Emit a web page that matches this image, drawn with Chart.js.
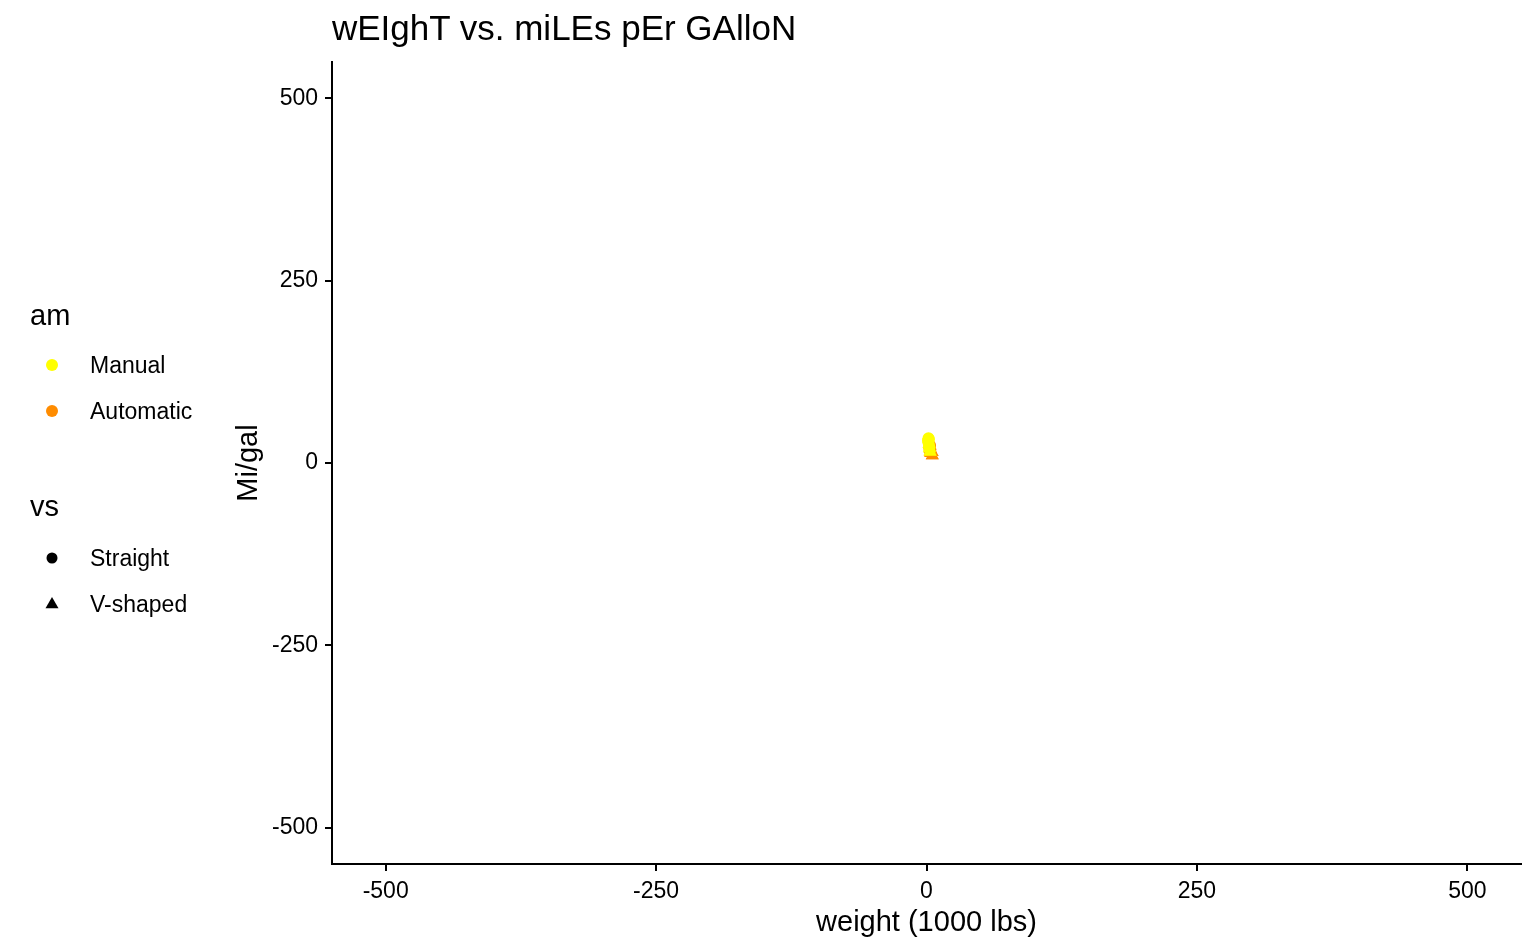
<!DOCTYPE html>
<html>
<head>
<meta charset="utf-8">
<script src="https://cdn.jsdelivr.net/npm/chart.js@4/dist/chart.umd.min.js"></script>
<style>
  body { margin: 0; background: #fff; }
  #wrap { position: relative; width: 1536px; height: 949px; font-family: "Liberation Sans", Arial, sans-serif; color: #000; }
  #grafico { position: absolute; left: 0; top: 0; }
  .txt { position: absolute; white-space: nowrap; }
  .key { position: absolute; }
</style>
</head>
<body>
<div id="wrap">
  <canvas id="grafico" width="1536" height="949"></canvas>
  <div class="txt" style="left:332px; top:10px; font-size:35px; line-height:35px;">wEIghT vs. miLEs pEr GAlloN</div>

  <div class="txt" style="left:30px; top:301px; font-size:29px; line-height:29px;">am</div>
  <svg class="key" style="left:44px; top:357px;" width="16" height="16"><circle cx="8" cy="8" r="6" fill="#FFFF00"/></svg>
  <div class="txt" style="left:90px; top:354px; font-size:23px; line-height:23px;">Manual</div>
  <svg class="key" style="left:44px; top:403px;" width="16" height="16"><circle cx="8" cy="8" r="6" fill="#FF8C00"/></svg>
  <div class="txt" style="left:90px; top:400px; font-size:23px; line-height:23px;">Automatic</div>

  <div class="txt" style="left:30px; top:492px; font-size:29px; line-height:29px;">vs</div>
  <svg class="key" style="left:44px; top:550px;" width="16" height="16"><circle cx="8" cy="8" r="5.5" fill="#000"/></svg>
  <div class="txt" style="left:90px; top:547px; font-size:23px; line-height:23px;">Straight</div>
  <svg class="key" style="left:44px; top:595px;" width="16" height="16"><polygon points="8,2 14.5,13.3 1.5,13.3" fill="#000"/></svg>
  <div class="txt" style="left:90px; top:593px; font-size:23px; line-height:23px;">V-shaped</div>
</div>
<script>
  // dados (mtcars)
  var peso = [2.620, 2.875, 2.320, 3.215, 3.440, 3.460, 3.570, 3.190, 3.150, 3.440, 3.440,
              4.070, 3.730, 3.780, 5.250, 5.424, 5.345, 2.200, 1.615, 1.835, 2.465, 3.520,
              3.435, 3.840, 3.845, 1.935, 2.140, 1.513, 3.170, 2.770, 3.570, 2.780];
  var mpg = [21.0, 21.0, 22.8, 21.4, 18.7, 18.1, 14.3, 24.4, 22.8, 19.2, 17.8,
             16.4, 17.3, 15.2, 10.4, 10.4, 14.7, 32.4, 30.4, 33.9, 21.5, 15.5,
             15.2, 13.3, 19.2, 27.3, 26.0, 30.4, 15.8, 19.7, 15.0, 21.4];
  var am = [1, 1, 1, 0, 0, 0, 0, 0, 0, 0, 0,
            0, 0, 0, 0, 0, 0, 1, 1, 1, 0, 0,
            0, 0, 0, 1, 1, 1, 1, 1, 1, 1];
  var vs = [0, 0, 1, 1, 0, 1, 0, 1, 1, 1, 1,
            0, 0, 0, 0, 0, 0, 1, 1, 1, 1, 0,
            0, 0, 0, 1, 0, 1, 0, 0, 0, 1];
  var xTicks = [-500, -250, 0, 250, 500];
  var yTicks = [-500, -250, 0, 250, 500];

  var cores = { 1: '#FFFF00', 0: '#FF8C00' };
  var formas = { 1: 'circle', 0: 'triangle' };
  var raios = { 1: 6, 0: 7.5 };

  function pontos(a, v) {
    var out = [];
    for (var i = 0; i < peso.length; i++) {
      if (am[i] === a && vs[i] === v) out.push({ x: peso[i], y: mpg[i] });
    }
    return out;
  }

  // manual primeiro (fica por cima)
  var datasets = [];
  [1, 0].forEach(function (a) {
    [1, 0].forEach(function (v) {
      datasets.push({
        data: pontos(a, v),
        pointStyle: formas[v],
        pointRadius: raios[v],
        pointBackgroundColor: cores[a],
        pointBorderWidth: 0,
        showLine: false
      });
    });
  });

  var fonteTick = { family: '"Liberation Sans", Arial, sans-serif', size: 23 };
  var fonteTitulo = { family: '"Liberation Sans", Arial, sans-serif', size: 29 };

  var ctx = document.getElementById('grafico').getContext('2d');
  var grafico = new Chart(ctx, {
    type: 'scatter',
    data: { datasets: datasets },
    options: {
      responsive: false,
      animation: false,
      layout: { padding: { left: 232, top: 62, right: 15, bottom: 0 } },
      plugins: { legend: { display: false }, tooltip: { enabled: false } },
      scales: {
        x: {
          min: -549.6, max: 549.6,
          afterBuildTicks: function (s) { s.ticks = xTicks.map(function (v) { return { value: v }; }); },
          afterFit: function (s) { s.height = 85; },
          ticks: { color: '#000', font: fonteTick, padding: 7, maxRotation: 0,
                   callback: function (v) { return String(v); } },
          grid: { drawOnChartArea: false, drawTicks: true, tickLength: 7, color: '#000', lineWidth: 2 },
          border: { display: true, color: '#000', width: 2 },
          title: { display: true, text: 'weight (1000 lbs)', color: '#000', font: fonteTitulo, padding: { top: 0, bottom: 9 } }
        },
        y: {
          min: -549.6, max: 549.6,
          afterBuildTicks: function (s) { s.ticks = yTicks.map(function (v) { return { value: v }; }); },
          afterFit: function (s) { s.width = 100; },
          ticks: { color: '#000', font: fonteTick, padding: 7,
                   callback: function (v) { return String(v); } },
          grid: { drawOnChartArea: false, drawTicks: true, tickLength: 7, color: '#000', lineWidth: 2 },
          border: { display: true, color: '#000', width: 2 },
          title: { display: true, text: 'Mi/gal', color: '#000', font: fonteTitulo, padding: { top: 0, bottom: 0 } }
        }
      }
    }
  });
</script>
</body>
</html>
